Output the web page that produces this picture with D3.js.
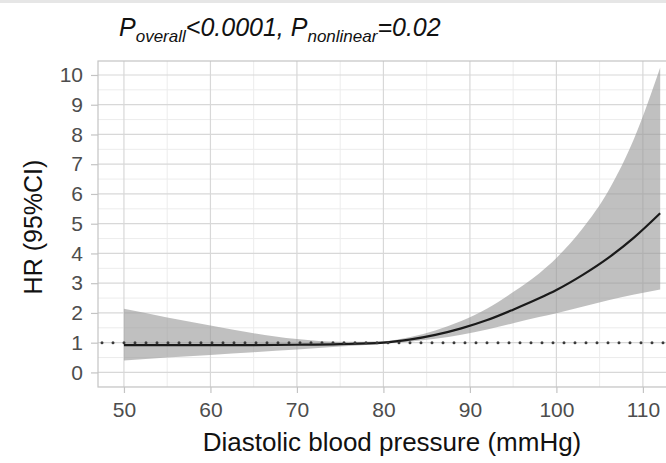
<!DOCTYPE html>
<html>
<head>
<meta charset="utf-8">
<script src="https://cdn.jsdelivr.net/npm/d3@7"></script>
<style>
  body { margin: 0; background: #fff; }
  svg { display: block; font-family: "Liberation Sans", Arial, Helvetica, sans-serif; }
</style>
</head>
<body>
<svg id="chart" width="666" height="463"></svg>
<script>
// Restricted cubic spline: hazard ratio by diastolic blood pressure
const dbp   = [50, 55, 60, 65, 70, 75, 80, 83, 86, 89, 92, 95, 98, 100, 103, 106, 109, 112];
const hr    = [0.92, 0.92, 0.92, 0.92, 0.93, 0.95, 1.00, 1.10, 1.26, 1.48, 1.76, 2.11, 2.49, 2.77, 3.27, 3.85, 4.54, 5.35];
const lower = [0.40, 0.50, 0.59, 0.68, 0.77, 0.87, 0.96, 1.03, 1.13, 1.27, 1.44, 1.65, 1.86, 1.99, 2.21, 2.43, 2.62, 2.79];
const upper = [2.14, 1.85, 1.58, 1.32, 1.12, 1.03, 1.05, 1.18, 1.41, 1.73, 2.15, 2.70, 3.33, 3.85, 4.83, 6.10, 7.87, 10.25];

const xTicks = [50, 60, 70, 80, 90, 100, 110];
const xMinor = [45, 55, 65, 75, 85, 95, 105, 115];
const yTicks = [0, 1, 2, 3, 4, 5, 6, 7, 8, 9, 10];
const yMinor = [-0.5, 0.5, 1.5, 2.5, 3.5, 4.5, 5.5, 6.5, 7.5, 8.5, 9.5];
const refHR = 1;

const xTitle = "Diastolic blood pressure (mmHg)";
const yTitle = "HR (95%CI)";

const svg = d3.select("#chart");
const panel = { left: 98, top: 61, right: 687, bottom: 387 };

const x = d3.scaleLinear().domain([47, 115.1]).range([panel.left, panel.right]);
const y = d3.scaleLinear().domain([-0.49, 10.47]).range([panel.bottom, panel.top]);

const rows = dbp.map((d, i) => ({ x: d, hr: hr[i], lo: lower[i], hi: upper[i] }));

// thin strip along the top edge of the page
svg.append("rect").attr("x", 0).attr("y", 0).attr("width", 666).attr("height", 3).attr("fill", "#e6e6e6");

svg.append("defs").append("clipPath").attr("id", "panel-clip")
  .append("rect")
  .attr("x", panel.left).attr("y", panel.top)
  .attr("width", panel.right - panel.left).attr("height", panel.bottom - panel.top);

const g = svg.append("g").attr("clip-path", "url(#panel-clip)");

// minor grid
g.selectAll(".xminor").data(xMinor).join("line")
  .attr("x1", d => x(d)).attr("x2", d => x(d))
  .attr("y1", panel.top).attr("y2", panel.bottom)
  .attr("stroke", "#ececec").attr("stroke-width", 1);
g.selectAll(".yminor").data(yMinor).join("line")
  .attr("y1", d => y(d)).attr("y2", d => y(d))
  .attr("x1", panel.left).attr("x2", panel.right)
  .attr("stroke", "#ececec").attr("stroke-width", 1);

// major grid
g.selectAll(".xmajor").data(xTicks).join("line")
  .attr("x1", d => x(d)).attr("x2", d => x(d))
  .attr("y1", panel.top).attr("y2", panel.bottom)
  .attr("stroke", "#d8d8d8").attr("stroke-width", 1.2);
g.selectAll(".ymajor").data(yTicks).join("line")
  .attr("y1", d => y(d)).attr("y2", d => y(d))
  .attr("x1", panel.left).attr("x2", panel.right)
  .attr("stroke", "#d8d8d8").attr("stroke-width", 1.2);

// confidence band
const band = d3.area()
  .x(d => x(d.x))
  .y0(d => y(d.lo))
  .y1(d => y(d.hi))
  .curve(d3.curveMonotoneX);
g.append("path").datum(rows)
  .attr("d", band)
  .attr("fill", "#999").attr("fill-opacity", 0.62);

// fitted hazard ratio
const curve = d3.line()
  .x(d => x(d.x))
  .y(d => y(d.hr))
  .curve(d3.curveMonotoneX);
g.append("path").datum(rows)
  .attr("d", curve)
  .attr("fill", "none")
  .attr("stroke", "#1a1a1a").attr("stroke-width", 2.2);

// reference line at HR = 1
g.append("line")
  .attr("x1", panel.left + 4).attr("x2", panel.right)
  .attr("y1", y(refHR)).attr("y2", y(refHR))
  .attr("stroke", "#3a3a3a").attr("stroke-width", 3)
  .attr("stroke-linecap", "round")
  .attr("stroke-dasharray", "0 11");

// panel border
svg.append("rect")
  .attr("x", panel.left).attr("y", panel.top)
  .attr("width", panel.right - panel.left).attr("height", panel.bottom - panel.top)
  .attr("fill", "none").attr("stroke", "#c4c4c4").attr("stroke-width", 1.2);

// axes
const xAxis = d3.axisBottom(x).tickValues(xTicks).tickSize(6).tickPadding(9).tickFormat(d3.format("d"));
const yAxis = d3.axisLeft(y).tickValues(yTicks).tickSize(7).tickPadding(8).tickFormat(d3.format("d"));

const gx = svg.append("g").attr("transform", `translate(0,${panel.bottom})`).call(xAxis);
const gy = svg.append("g").attr("transform", `translate(${panel.left},0)`).call(yAxis);

[gx, gy].forEach(a => {
  a.select(".domain").remove();
  a.selectAll(".tick line").attr("stroke", "#c4c4c4").attr("stroke-width", 1.2);
  a.selectAll(".tick text")
    .attr("fill", "#4d4d4d")
    .style("font-size", "21px")
    .style("font-family", "'Liberation Sans', Arial, sans-serif");
});

// axis titles
svg.append("text")
  .attr("x", 392).attr("y", 451)
  .attr("text-anchor", "middle")
  .style("font-size", "26px")
  .attr("fill", "#111")
  .text(xTitle);

svg.append("text")
  .attr("transform", "translate(42,227) rotate(-90)")
  .attr("text-anchor", "middle")
  .style("font-size", "25px")
  .attr("fill", "#111")
  .text(yTitle);

// significance statement
const title = svg.append("text")
  .attr("x", 119).attr("y", 36)
  .style("font-style", "italic")
  .attr("fill", "#111");
title.append("tspan").style("font-size", "25px").text("P");
title.append("tspan").style("font-size", "17px").attr("dy", 6).text("overall");
title.append("tspan").style("font-size", "25px").attr("dy", -6).text("<0.0001, P");
title.append("tspan").style("font-size", "17px").attr("dy", 6).text("nonlinear");
title.append("tspan").style("font-size", "25px").attr("dy", -6).text("=0.02");
</script>
</body>
</html>
